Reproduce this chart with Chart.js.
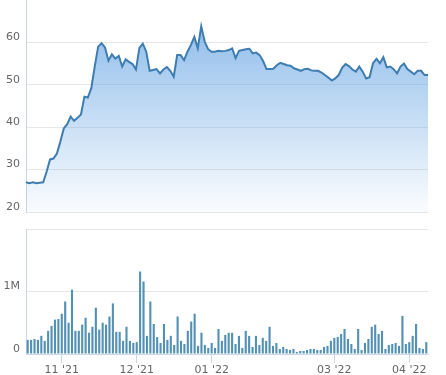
<!DOCTYPE html>
<html>
<head>
<meta charset="utf-8">
<script src="https://cdn.jsdelivr.net/npm/chart.js@4/dist/chart.umd.min.js"></script>
<style>
  html, body { margin: 0; padding: 0; background: #fff; }
  #wrap { position: relative; width: 446px; height: 375px; overflow: hidden; }
  #top { position: absolute; left: 0; top: 0; }
  #bot { position: absolute; left: 0; top: 220px; }
</style>
</head>
<body>
<div id="wrap">
  <canvas id="top" width="446" height="215"></canvas>
  <canvas id="bot" width="446" height="155"></canvas>
</div>
<script>
// ---- data ----
const price = [27.0, 26.8, 27.0, 26.8, 26.9, 27.0, 29.5, 32.4, 32.6, 33.8,
  36.6, 39.7, 40.7, 42.5, 41.5, 42.2, 43.0, 47.2, 47.0, 49.2,
  54.3, 59.0, 59.8, 58.8, 55.7, 57.2, 56.2, 56.8, 54.3, 56.0,
  55.4, 54.9, 53.6, 58.7, 59.7, 57.8, 53.3, 53.5, 53.7, 52.7,
  53.6, 54.2, 53.3, 51.9, 57.0, 57.0, 55.8, 57.8, 59.4, 61.3,
  58.6, 63.8, 60.2, 58.4, 57.8, 57.8, 58.0, 57.9, 58.0, 58.2,
  58.6, 56.3, 58.0, 58.2, 58.4, 58.5, 57.4, 57.6, 57.0, 55.6,
  53.7, 53.7, 53.8, 54.6, 55.2, 54.9, 54.6, 54.5, 53.9, 53.6,
  53.3, 53.7, 53.8, 53.4, 53.3, 53.3, 52.9, 52.3, 51.7, 51.0,
  51.5, 52.3, 54.0, 54.9, 54.4, 53.6, 53.1, 54.3, 53.1, 51.5,
  51.8, 55.1, 56.1, 55.1, 56.5, 54.1, 54.3, 53.7, 52.7, 54.3,
  55.0, 53.7, 53.1, 52.5, 53.3, 53.3, 52.3, 52.3];

// volume in millions
const volume = [0.226, 0.226, 0.24, 0.226, 0.29, 0.21, 0.37, 0.45, 0.55, 0.56,
  0.645, 0.84, 0.5, 1.03, 0.37, 0.37, 0.47, 0.58, 0.34, 0.435,
  0.74, 0.39, 0.5, 0.47, 0.6, 0.81, 0.355, 0.355, 0.21, 0.435,
  0.21, 0.177, 0.19, 1.32, 1.16, 0.29, 0.84, 0.48, 0.27, 0.177,
  0.48, 0.226, 0.29, 0.145, 0.6, 0.21, 0.16, 0.37, 0.52, 0.645,
  0.13, 0.34, 0.145, 0.097, 0.177, 0.097, 0.4, 0.21, 0.306, 0.34,
  0.34, 0.16, 0.29, 0.097, 0.37, 0.29, 0.113, 0.29, 0.145, 0.258,
  0.21, 0.435, 0.13, 0.177, 0.08, 0.113, 0.08, 0.065, 0.08, 0.032,
  0.048, 0.048, 0.065, 0.08, 0.08, 0.065, 0.065, 0.113, 0.13, 0.21,
  0.258, 0.274, 0.32, 0.40, 0.24, 0.16, 0.08, 0.40, 0.065, 0.177,
  0.24, 0.435, 0.47, 0.32, 0.37, 0.08, 0.145, 0.16, 0.177, 0.13,
  0.61, 0.16, 0.19, 0.29, 0.48, 0.097, 0.08, 0.19];

// trading-day categories (index), month-start positions and their labels
const categories = price.map((_, i) => i);
const monthTickIndex = [10, 32, 54, 90, 112];
const monthTickLabels = ["11 '21", "12 '21", "01 '22", "03 '22", "04 '22"];

const priceTicks = [20, 30, 40, 50, 60];
const volumeTicks = [0, 1];
const volumeTickLabels = ['0', '1M'];

// ---- styles ----
const FONT = { family: 'DejaVu Sans', size: 11 };
const TXT = '#666666';
const GRID = '#e6e6e6';
const AXIS = '#ccd6eb';
const LINE = '#3e7db0';
const BAR = '#5291b5';

Chart.defaults.animation = false;

function noPad(s) { s.paddingTop = 0; s.paddingBottom = 0; s.paddingLeft = 0; s.paddingRight = 0; }

// top price chart
new Chart(document.getElementById('top'), {
  type: 'line',
  data: {
    labels: categories,
    datasets: [{
      data: price,
      borderColor: LINE,
      borderWidth: 2,
      pointRadius: 0,
      tension: 0,
      fill: 'start',
      backgroundColor: (ctx) => {
        const area = ctx.chart.chartArea;
        if (!area) return 'rgba(124,178,232,0.5)';
        const g = ctx.chart.ctx.createLinearGradient(0, area.top, 0, area.bottom);
        g.addColorStop(0, 'rgba(118,174,230,0.9)');
        g.addColorStop(1, 'rgba(118,174,230,0.03)');
        return g;
      }
    }]
  },
  options: {
    responsive: false,
    layout: { autoPadding: false, padding: { top: 0, left: 0, right: 18, bottom: 3 } },
    plugins: { legend: { display: false }, tooltip: { enabled: false } },
    scales: {
      x: { type: 'category', display: false, offset: false },
      y: {
        min: 20, max: 70,
        afterFit: (s) => { s.width = 26; noPad(s); },
        afterBuildTicks: (s) => { s.ticks = priceTicks.map(v => ({ value: v })); },
        ticks: {
          font: FONT, color: TXT, padding: 6, labelOffset: -5,
          callback: (v) => String(v)
        },
        grid: { drawTicks: false, color: GRID },
        border: { color: AXIS, width: 1 }
      }
    }
  }
});

// bottom volume chart
new Chart(document.getElementById('bot'), {
  type: 'bar',
  data: {
    labels: categories,
    datasets: [{
      data: volume,
      backgroundColor: BAR,
      borderWidth: 0,
      barPercentage: 0.62,
      categoryPercentage: 1.0
    }]
  },
  options: {
    responsive: false,
    layout: { autoPadding: false, padding: { top: 9, left: 0, right: 18, bottom: 0 } },
    plugins: { legend: { display: false }, tooltip: { enabled: false } },
    scales: {
      x: {
        type: 'category',
        offset: true,
        afterFit: (s) => { s.height = 21; noPad(s); },
        ticks: {
          autoSkip: false, maxRotation: 0, minRotation: 0,
          font: FONT, color: TXT, padding: 1,
          callback: (v, i) => {
            const k = monthTickIndex.indexOf(i);
            return k >= 0 ? monthTickLabels[k] : '';
          }
        },
        grid: {
          offset: false,
          drawOnChartArea: false,
          drawTicks: true,
          tickLength: 9,
          tickColor: (c) => monthTickIndex.includes(c.index) ? AXIS : 'rgba(0,0,0,0)'
        },
        border: { color: AXIS, width: 1 }
      },
      y: {
        min: 0, max: 2,
        afterFit: (s) => { s.width = 26; noPad(s); },
        afterBuildTicks: (s) => { s.ticks = volumeTicks.concat([2]).map(v => ({ value: v })); },
        ticks: {
          font: FONT, color: TXT, padding: 6, labelOffset: -5,
          callback: (v) => {
            const k = volumeTicks.indexOf(v);
            return k >= 0 ? volumeTickLabels[k] : '';
          }
        },
        grid: { drawTicks: false, color: GRID },
        border: { color: AXIS, width: 1 }
      }
    }
  }
});
</script>
</body>
</html>
